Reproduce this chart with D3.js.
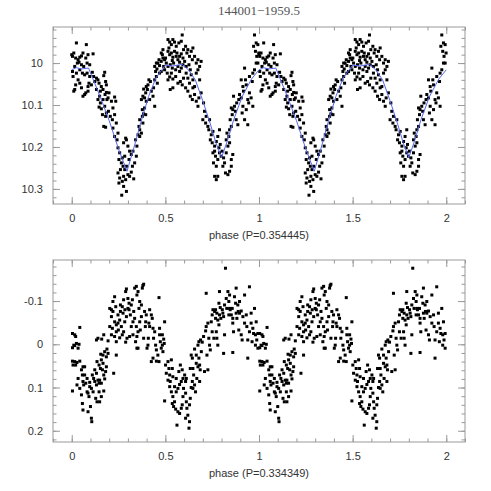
<!DOCTYPE html>
<html>
<head lang="en">
    <meta charset="UTF-8">
    <title></title>
    <style>
        body { margin: 0; background: #fff; }
        text { font-family: "Liberation Sans", Arial, sans-serif; }
    </style>
</head>
<body>
<svg width="491" height="491"></svg>
<script src="https://d3js.org/d3.v7.min.js"></script>
<script>
    // phase in [0,1), folded; plotted again at phase+1
    var topPoints = [
        [0.025,9.952],[0.078,9.956],[0.000,9.980],[0.004,9.984],[0.011,9.976],[0.021,9.988],[0.034,9.992],[0.043,9.986],
        [0.052,9.983],[0.060,9.976],[0.075,9.988],[0.087,9.980],[0.114,9.978],[0.030,10.000],[0.039,9.998],[0.052,10.004],
        [0.064,10.008],[0.082,10.000],[0.096,10.004],[0.016,10.008],[0.004,10.020],[0.007,10.032],[0.025,10.024],[0.043,10.016],
        [0.057,10.024],[0.069,10.028],[0.082,10.024],[0.096,10.032],[0.110,10.022],[0.117,10.032],[0.034,10.040],[0.043,10.048],
        [0.021,10.052],[0.016,10.063],[0.011,10.067],[0.052,10.059],[0.069,10.075],[0.060,10.079],[0.092,10.048],[0.087,10.056],
        [0.105,10.052],[0.087,10.067],[0.075,10.071],
        [0.123,10.044],[0.132,10.036],[0.140,10.040],[0.146,10.048],[0.158,10.056],[0.153,10.067],[0.167,10.063],[0.176,10.022],
        [0.171,10.030],[0.181,10.044],[0.185,10.052],[0.132,10.063],[0.149,10.079],[0.140,10.087],[0.146,10.105],[0.158,10.109],
        [0.153,10.095],[0.167,10.087],[0.178,10.075],[0.185,10.070],[0.188,10.087],[0.194,10.083],[0.176,10.103],[0.164,10.123],
        [0.181,10.127],[0.185,10.119],[0.196,10.115],[0.171,10.151],[0.181,10.153],
        [0.199,10.071],[0.212,10.091],[0.229,10.081],[0.235,10.091],[0.220,10.107],[0.206,10.127],[0.217,10.135],[0.229,10.123],
        [0.238,10.143],[0.220,10.155],[0.247,10.167],[0.229,10.175],[0.242,10.183],[0.247,10.202],[0.256,10.214],[0.252,10.230],
        [0.265,10.238],[0.260,10.254],[0.247,10.262],[0.256,10.274],[0.252,10.286],[0.274,10.246],[0.283,10.254],[0.292,10.246],
        [0.277,10.270],[0.270,10.282],[0.288,10.278],[0.277,10.294],[0.292,10.306],[0.267,10.315],[0.300,10.266],[0.292,10.183],
        [0.288,10.179],[0.277,10.190],[0.300,10.198],[0.309,10.210],[0.283,10.222],[0.270,10.226],
        [0.306,10.230],[0.318,10.218],[0.327,10.210],[0.324,10.246],[0.318,10.260],[0.309,10.270],[0.331,10.276],[0.336,10.238],
        [0.345,10.222],[0.348,10.198],[0.341,10.183],[0.354,10.171],[0.363,10.159],[0.359,10.151],[0.372,10.167],[0.363,10.135],
        [0.377,10.127],[0.384,10.121],[0.377,10.111],[0.389,10.107],[0.395,10.123],[0.372,10.087],[0.380,10.079],[0.389,10.083],
        [0.398,10.091],[0.398,10.056],[0.407,10.052],[0.404,10.063],[0.395,10.071],[0.384,10.062],[0.363,10.175],[0.380,10.143],
        [0.412,10.040],[0.420,10.044],[0.425,10.067],[0.434,10.079],[0.416,10.087],[0.437,10.059],[0.443,10.040],[0.452,10.032],
        [0.448,10.020],[0.443,10.008],[0.455,10.014],[0.460,10.000],[0.469,10.006],[0.478,9.996],[0.487,9.988],[0.484,9.980],
        [0.496,9.992],[0.466,9.992],[0.452,10.000],[0.487,9.968],[0.478,9.976],[0.491,10.008],[0.478,10.020],[0.469,10.024],
        [0.496,10.016],[0.457,10.048],[0.443,10.103],
        [0.514,9.944],[0.523,9.950],[0.532,9.956],[0.540,9.944],[0.549,9.950],[0.558,9.960],[0.572,9.952],[0.585,9.948],
        [0.590,9.933],[0.597,9.968],[0.514,9.972],[0.523,9.980],[0.532,9.976],[0.540,9.986],[0.549,9.972],[0.558,9.984],
        [0.567,9.992],[0.576,9.984],[0.585,9.978],[0.594,9.988],[0.505,10.000],[0.514,10.008],[0.526,10.004],[0.537,10.012],
        [0.544,10.000],[0.555,10.016],[0.567,10.008],[0.576,10.020],[0.585,10.012],[0.594,10.004],[0.510,10.024],[0.523,10.033],
        [0.532,10.024],[0.540,10.038],[0.555,10.032],[0.567,10.048],[0.580,10.044],[0.590,10.052],[0.597,10.036],[0.526,10.063],
        [0.540,10.059],[0.514,10.040],[0.501,9.988],[0.519,9.964],[0.562,9.976],[0.537,9.994],[0.576,9.998],
        [0.608,9.960],[0.615,9.976],[0.620,9.968],[0.629,9.984],[0.638,9.972],[0.647,9.964],[0.603,9.996],[0.611,10.008],
        [0.626,10.004],[0.633,10.016],[0.644,9.992],[0.656,9.984],[0.665,10.000],[0.674,9.992],[0.611,10.024],[0.620,10.036],
        [0.629,10.048],[0.638,10.028],[0.647,10.040],[0.656,10.056],[0.665,10.024],[0.674,10.016],[0.683,10.008],[0.691,9.996],
        [0.608,10.059],[0.620,10.067],[0.633,10.079],[0.644,10.087],[0.656,10.075],[0.665,10.091],[0.679,10.083],[0.691,10.071],
        [0.674,10.103],[0.647,10.059],[0.683,10.040],
        [0.704,10.095],[0.709,10.115],[0.718,10.127],[0.700,10.135],[0.715,10.143],[0.727,10.151],[0.736,10.135],[0.732,10.159],
        [0.745,10.171],[0.754,10.163],[0.740,10.183],[0.750,10.190],[0.763,10.198],[0.772,10.187],[0.780,10.175],[0.789,10.159],
        [0.763,10.210],[0.754,10.214],[0.768,10.222],[0.780,10.230],[0.757,10.238],[0.772,10.246],[0.789,10.214],[0.786,10.202],
        [0.793,10.194],[0.763,10.270],[0.772,10.278],[0.780,10.270],[0.798,10.222],
        [0.803,10.210],[0.811,10.226],[0.816,10.238],[0.807,10.246],[0.825,10.214],[0.834,10.198],[0.825,10.183],[0.839,10.175],
        [0.829,10.167],[0.843,10.159],[0.852,10.151],[0.846,10.135],[0.857,10.123],[0.860,10.111],[0.852,10.107],[0.869,10.103],
        [0.874,10.115],[0.881,10.095],[0.892,10.087],[0.896,10.075],[0.864,10.079],[0.852,10.246],[0.843,10.258],[0.834,10.266],
        [0.821,10.262],[0.852,10.230],[0.860,10.218],[0.878,10.135],[0.887,10.147],[0.843,10.190],
        [0.923,10.012],[0.914,10.056],[0.917,10.067],[0.905,10.083],[0.914,10.103],[0.910,10.119],[0.923,10.135],[0.940,10.147],
        [0.932,10.052],[0.949,10.032],[0.967,10.024],[0.976,10.016],[0.971,9.960],[0.976,9.933],[0.985,9.952],[0.994,9.956],
        [0.981,9.972],[0.988,9.984],[0.999,9.976],[0.964,10.044],[0.940,10.087],[0.958,10.083],[0.949,10.071],[0.985,10.000],
        [0.994,10.000],[0.932,10.111],[0.967,10.103],[0.905,10.040],[0.928,10.040],[0.945,10.095]
    ];

    // mean curve drawn over the top panel
    var topCurve = [
        [0,10.016],[0.025,10.011],[0.05,10.014],[0.09,10.012],[0.15,10.078],[0.2,10.137],[0.25,10.205],[0.295,10.258],
        [0.33,10.205],[0.37,10.14],[0.41,10.08],[0.45,10.035],[0.5,10.005],[0.54,10.007],[0.59,10.003],[0.625,10.017],
        [0.66,10.04],[0.7,10.09],[0.74,10.145],[0.77,10.19],[0.8,10.225],[0.83,10.187],[0.865,10.135],[0.91,10.08],
        [0.96,10.038]
    ];

    var bottomPoints = [
        [0.004,-0.025],[0.016,-0.022],[0.021,-0.018],[0.011,0.002],[0.004,0.008],[0.016,0.003],[0.025,-0.002],[0.034,0.009],
        [0.039,0.000],[0.043,-0.039],[0.004,0.039],[0.016,0.040],[0.028,0.042],[0.043,0.039],[0.007,0.048],[0.021,0.048],
        [0.004,0.108],[0.034,0.079],[0.028,0.094],[0.043,0.102],[0.052,0.059],[0.060,0.052],[0.069,0.052],[0.057,0.071],
        [0.069,0.071],[0.060,0.086],[0.064,0.094],[0.075,0.090],[0.052,0.117],[0.057,0.137],[0.060,0.152],[0.082,0.079],
        [0.082,0.110],[0.087,0.113],[0.096,0.098],[0.092,0.121],[0.100,0.144],[0.087,0.156],[0.105,0.171],[0.107,0.179],
        [0.096,0.088],
        [0.110,0.071],[0.117,0.079],[0.123,0.086],[0.132,0.094],[0.105,0.102],[0.114,0.110],[0.128,0.125],[0.135,0.133],
        [0.123,0.059],[0.132,0.067],[0.140,0.083],[0.146,0.090],[0.146,0.110],[0.135,0.040],[0.146,0.048],[0.153,0.056],
        [0.158,0.036],[0.167,0.044],[0.164,0.059],[0.171,0.071],[0.176,0.080],[0.181,0.063],[0.185,0.052],[0.155,0.023],
        [0.167,0.025],[0.176,0.017],[0.185,0.029],[0.188,0.011],[0.194,0.021],[0.132,-0.010],[0.140,-0.014],[0.160,-0.012],
        [0.171,-0.022],[0.194,-0.008],[0.149,0.083],[0.158,0.090],[0.171,0.108],[0.158,0.121],[0.149,0.133],
        [0.203,-0.083],[0.212,-0.080],[0.220,-0.076],[0.212,-0.064],[0.229,-0.110],[0.203,-0.041],[0.217,-0.037],[0.229,-0.052],
        [0.238,-0.045],[0.212,-0.022],[0.229,-0.018],[0.238,-0.029],[0.247,-0.049],[0.256,-0.056],[0.247,-0.068],[0.260,-0.076],
        [0.270,-0.087],[0.274,-0.072],[0.265,-0.041],[0.277,-0.029],[0.283,-0.052],[0.288,-0.122],[0.292,-0.128],[0.300,-0.106],
        [0.306,-0.095],[0.238,-0.006],[0.238,0.025],[0.224,0.067],[0.256,-0.015],[0.270,-0.022],[0.292,-0.064],[0.300,-0.083],
        [0.277,-0.103],[0.260,-0.091],[0.220,-0.099],[0.235,-0.087],[0.284,-0.080],[0.295,-0.014],[0.288,-0.005],[0.249,-0.033],
        [0.306,-0.080],[0.313,-0.068],[0.318,-0.091],[0.324,-0.103],[0.331,-0.076],[0.336,-0.130],[0.345,-0.134],[0.348,-0.114],
        [0.354,-0.122],[0.363,-0.099],[0.372,-0.091],[0.359,-0.083],[0.336,-0.060],[0.327,-0.052],[0.318,-0.041],[0.345,-0.041],
        [0.354,-0.029],[0.363,-0.052],[0.348,-0.018],[0.309,-0.018],[0.327,-0.022],[0.372,-0.064],[0.380,-0.136],[0.377,-0.130],
        [0.384,-0.139],[0.389,-0.076],[0.398,-0.068],[0.395,-0.052],[0.366,-0.033],[0.341,-0.006],[0.354,0.009],[0.393,-0.041],
        [0.348,0.009],[0.384,-0.014],
        [0.402,0.009],[0.407,0.002],[0.412,-0.049],[0.416,-0.041],[0.425,-0.068],[0.430,-0.060],[0.434,-0.037],[0.443,-0.029],
        [0.437,-0.014],[0.448,0.002],[0.452,0.013],[0.460,0.025],[0.466,-0.108],[0.469,-0.022],[0.473,-0.006],[0.478,0.009],
        [0.487,0.017],[0.484,-0.022],[0.491,-0.012],[0.496,-0.052],[0.466,0.040],[0.452,0.039],[0.434,0.032],[0.425,0.040],
        [0.416,-0.080],[0.409,-0.014],[0.469,-0.037],[0.484,0.002],[0.494,-0.002],
        [0.501,0.048],[0.505,0.067],[0.496,0.131],[0.514,0.040],[0.519,0.056],[0.523,0.071],[0.526,0.086],[0.532,0.036],
        [0.537,0.056],[0.540,0.075],[0.549,0.098],[0.558,0.110],[0.567,0.102],[0.576,0.093],[0.532,0.110],[0.540,0.121],
        [0.549,0.133],[0.537,0.137],[0.544,0.144],[0.555,0.150],[0.567,0.156],[0.562,0.187],[0.576,0.160],[0.585,0.148],
        [0.590,0.140],[0.594,0.121],[0.597,0.102],[0.514,0.083],[0.523,0.098],[0.572,0.063],[0.580,0.048],[0.558,0.079],
        [0.585,0.086],[0.594,0.079],[0.590,0.059],
        [0.603,0.071],[0.608,0.086],[0.612,0.079],[0.608,0.113],[0.612,0.133],[0.615,0.148],[0.620,0.164],[0.626,0.194],
        [0.629,0.140],[0.633,0.125],[0.638,0.100],[0.644,0.086],[0.647,0.056],[0.651,0.071],[0.656,0.094],[0.661,0.110],
        [0.633,0.056],[0.638,0.025],[0.644,0.032],[0.629,0.179],[0.608,0.171],[0.665,0.044],[0.674,0.052],[0.679,0.032],
        [0.683,0.048],[0.686,0.059],[0.692,0.017],[0.665,0.025],[0.656,0.011],[0.674,0.002],[0.679,-0.006],[0.688,-0.010],
        [0.697,-0.005],[0.647,0.102],[0.668,0.079],[0.683,0.086],
        [0.704,-0.018],[0.715,-0.031],[0.718,-0.041],[0.727,-0.049],[0.732,-0.014],[0.736,0.002],[0.740,0.013],[0.745,-0.052],
        [0.750,-0.068],[0.754,-0.080],[0.763,-0.076],[0.768,-0.060],[0.772,-0.029],[0.775,-0.014],[0.780,0.002],[0.786,-0.045],
        [0.789,-0.068],[0.793,-0.085],[0.786,-0.095],[0.780,-0.056],[0.718,-0.118],[0.722,0.025],[0.709,0.063],[0.727,0.059],
        [0.750,-0.029],[0.759,-0.014],[0.789,-0.122],[0.768,-0.080],[0.775,-0.072],[0.796,-0.060],
        [0.804,-0.080],[0.807,-0.072],[0.811,-0.064],[0.816,-0.091],[0.821,-0.176],[0.825,-0.106],[0.828,-0.083],[0.834,-0.122],
        [0.839,-0.099],[0.843,-0.114],[0.846,-0.080],[0.852,-0.068],[0.857,-0.083],[0.860,-0.049],[0.864,-0.029],[0.869,-0.110],
        [0.875,-0.095],[0.878,-0.072],[0.887,-0.091],[0.882,-0.060],[0.892,-0.033],[0.896,-0.072],[0.878,-0.130],[0.839,-0.068],
        [0.816,-0.022],[0.811,0.021],[0.843,-0.083],[0.860,-0.060],[0.889,-0.076],[0.860,0.019],
        [0.896,-0.099],[0.905,-0.077],[0.914,-0.064],[0.923,-0.049],[0.935,-0.041],[0.940,-0.010],[0.910,-0.010],[0.949,-0.133],
        [0.958,-0.049],[0.967,-0.037],[0.971,-0.025],[0.981,-0.022],[0.985,-0.052],[0.988,-0.010],[0.994,-0.025],[0.976,-0.083],
        [0.940,0.032],[0.963,-0.006],[0.981,0.002],[0.994,0.009],[0.923,-0.114],[0.905,-0.022],[0.949,-0.029],[0.932,-0.068],
        [0.958,-0.072]
    ];

    var title = "144001\u22121959.5";
    var xTicks = [0, 0.5, 1, 1.5, 2];
    var xTickLabels = ["0", "0.5", "1", "1.5", "2"];
    var topYTicks = [10, 10.1, 10.2, 10.3];
    var topYTickLabels = ["10", "10.1", "10.2", "10.3"];
    var bottomYTicks = [-0.1, 0, 0.1, 0.2];
    var bottomYTickLabels = ["-0.1", "0", "0.1", "0.2"];
    var topXLabel = "phase (P=0.354445)";
    var bottomXLabel = "phase (P=0.334349)";

    var svg = d3.select("svg"),
            LEFT = 53, RIGHT = 465;

    svg.append("text")
            .attr("x", 259).attr("y", 15)
            .attr("text-anchor", "middle")
            .style("font-family", "'Liberation Serif', serif")
            .style("font-size", "13px")
            .attr("fill", "#555")
            .text(title);

    // fold twice: phase and phase+1
    function twoCycles(arr) {
        return arr.map(function (d) { return [d[0], d[1]]; })
                .concat(arr.map(function (d) { return [d[0] + 1, d[1]]; }));
    }

    function panel(top, bottom, yDomain, yTicks, yLabels, yMinor, points, curve, label) {
        var xScale = d3.scaleLinear().domain([-0.1, 2.1]).range([LEFT, RIGHT]);
        var yScale = d3.scaleLinear().domain(yDomain).range([top, bottom]);
        var xMinor = d3.range(-1, 22).map(function (i) { return i / 10; });
        var g = svg.append("g");

        var sides = [
            {make: d3.axisBottom, scale: xScale, at: "translate(0," + bottom + ")", major: xTicks, minor: xMinor, labels: xTickLabels},
            {make: d3.axisTop, scale: xScale, at: "translate(0," + top + ")", major: xTicks, minor: xMinor, labels: null},
            {make: d3.axisLeft, scale: yScale, at: "translate(" + LEFT + ",0)", major: yTicks, minor: yMinor, labels: yLabels},
            {make: d3.axisRight, scale: yScale, at: "translate(" + RIGHT + ",0)", major: yTicks, minor: yMinor, labels: null}
        ];
        sides.forEach(function (s) {
            g.append("g").attr("transform", s.at)
                    .call(s.make(s.scale).tickValues(s.minor).tickSize(-3.5).tickFormat(""));
            var major = s.make(s.scale).tickValues(s.major).tickSize(-7).tickPadding(s.labels ? 10 : 0);
            if (s.labels) {
                major.tickFormat(function (d, i) { return s.labels[i]; });
            } else {
                major.tickFormat("");
            }
            g.append("g").attr("transform", s.at).call(major);
        });

        g.selectAll(".domain").remove();
        g.selectAll(".tick line").attr("stroke", "#999");
        g.selectAll(".tick text")
                .attr("fill", "#333")
                .style("font-family", "'Liberation Sans', Arial, sans-serif")
                .style("font-size", "11px");

        g.append("rect")
                .attr("x", LEFT).attr("y", top)
                .attr("width", RIGHT - LEFT).attr("height", bottom - top)
                .attr("fill", "none").attr("stroke", "#999");

        g.selectAll("rect.pt")
                .data(twoCycles(points))
                .enter().append("rect")
                .attr("class", "pt")
                .attr("x", function (d) { return xScale(d[0]) - 1.5; })
                .attr("y", function (d) { return yScale(d[1]) - 1.5; })
                .attr("width", 3).attr("height", 3)
                .attr("fill", "#000");

        if (curve) {
            var full = twoCycles(curve);
            full.push([2, curve[0][1]]);
            var lineGen = d3.line()
                    .x(function (d) { return xScale(d[0]); })
                    .y(function (d) { return yScale(d[1]); });
            g.append("path")
                    .attr("d", lineGen(full))
                    .attr("stroke", "#5566ee")
                    .attr("stroke-width", 1)
                    .attr("fill", "none");
        }

        g.append("text")
                .attr("x", 259).attr("y", bottom + 35)
                .attr("text-anchor", "middle")
                .attr("fill", "#333")
                .style("font-size", "11px")
                .text(label);
    }

    panel(27, 204, [9.914, 10.336], topYTicks, topYTickLabels,
            d3.range(496, 517).map(function (i) { return i / 50; }),
            topPoints, topCurve, topXLabel);

    panel(260, 442, [-0.195, 0.226], bottomYTicks, bottomYTickLabels,
            d3.range(-9, 12).map(function (i) { return i / 50; }),
            bottomPoints, null, bottomXLabel);
</script>
</body>
</html>
